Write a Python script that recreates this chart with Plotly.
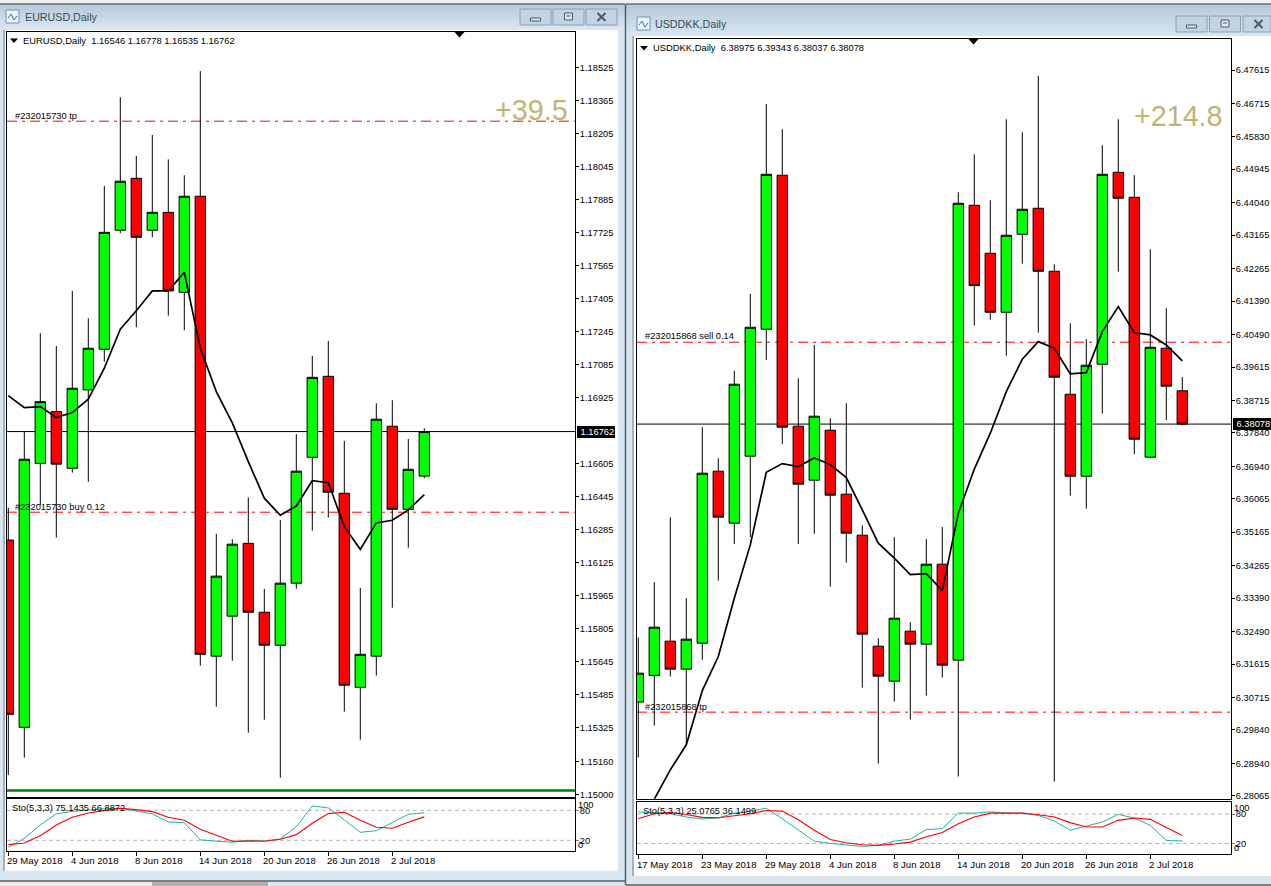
import plotly.graph_objects as go

W, H = 1271, 886

# ---------- EURUSD data ----------
eur_open = [1.16236,1.15328,1.16608,1.16859,1.16584,1.16964,1.17161,1.17738,1.17990,1.17738,1.17825,1.17437,1.17903,1.15673,1.15867,1.16220,1.15886,1.15726,1.16027,1.16637,1.17030,1.16463,1.15522,1.15673,1.16788,1.16385,1.16546]
eur_high = [1.16392,1.16765,1.17239,1.17177,1.17444,1.17311,1.17953,1.18383,1.18098,1.18200,1.18082,1.18005,1.18510,1.16266,1.16240,1.16443,1.15999,1.16333,1.16750,1.17129,1.17201,1.16717,1.16004,1.16899,1.16914,1.16726,1.16778]
eur_low = [1.15097,1.15181,1.16406,1.16248,1.16563,1.16519,1.17101,1.17724,1.17268,1.17704,1.17324,1.17253,1.15627,1.15428,1.15651,1.15302,1.15365,1.15084,1.16000,1.16282,1.16345,1.15404,1.15268,1.15579,1.15908,1.16199,1.16535]
eur_close = [1.15391,1.16628,1.16907,1.16604,1.16972,1.17166,1.17728,1.17976,1.17704,1.17825,1.17444,1.17903,1.15682,1.16061,1.16216,1.15886,1.15726,1.16027,1.16570,1.17025,1.16468,1.15532,1.15682,1.16822,1.16385,1.16579,1.16762]
eur_ma = [1.16936,1.16878,1.16883,1.16830,1.16854,1.16919,1.17069,1.17258,1.17348,1.17444,1.17444,1.17534,1.17166,1.16956,1.16804,1.16616,1.16439,1.16356,1.16401,1.16524,1.16514,1.16301,1.16191,1.16319,1.16332,1.16382,1.16456]
eur_sto_k = [6,24,50.7,73,78,80.7,83,84,78.7,72.7,56.7,55,20.7,18.7,16,20,18.7,22.7,47,88.7,84.7,60.7,36,39.3,55,72,75.14]
eur_sto_d = [11.3,14.7,29.3,50.7,66,74.7,79.3,84,81.3,77.3,66,60,42,29.3,18,18.7,18,22,31.3,54,73.3,76,60,46,44,56,66.89]
eur_ticks = [1.18525,1.18365,1.18205,1.18045,1.17885,1.17725,1.17565,1.17405,1.17245,1.17085,1.16925,1.16605,1.16445,1.16285,1.16125,1.15965,1.15805,1.15645,1.15485,1.15325,1.15160,1.15000]
eur_date_idx = [0,4,8,12,16,20,24]
eur_date_lbl = ["29 May 2018","4 Jun 2018","8 Jun 2018","14 Jun 2018","20 Jun 2018","26 Jun 2018","2 Jul 2018"]
eur_tp, eur_buy, eur_support, eur_last = 1.18267, 1.16371, 1.15021, 1.16762

# ---------- USDDKK data ----------
dkk_open = [6.30589,6.31305,6.32231,6.31477,6.32177,6.36809,6.35409,6.37213,6.40633,6.44780,6.38021,6.36567,6.37913,6.36190,6.35085,6.32096,6.31154,6.32500,6.32150,6.34305,6.31719,6.43972,6.42679,6.41090,6.43191,6.43891,6.42194,6.38882,6.36674,6.39690,6.44860,6.44187,6.37186,6.40121,6.38975]
dkk_high = [6.32328,6.33820,6.35570,6.33389,6.37994,6.37159,6.39510,6.41583,6.46700,6.46018,6.39313,6.40210,6.38236,6.38640,6.35355,6.32312,6.35032,6.32743,6.34978,6.35301,6.44322,6.45345,6.44106,6.46288,6.45937,6.47454,6.42383,6.40794,6.40363,6.45587,6.46288,6.44780,6.42787,6.41198,6.39343]
dkk_low = [6.29097,6.29958,6.31278,6.29439,6.31728,6.33863,6.34851,6.35032,6.39806,6.37544,6.34851,6.35120,6.33702,6.34348,6.30982,6.28935,6.30605,6.30120,6.30766,6.31251,6.28585,6.40730,6.40891,6.39922,6.42399,6.40541,6.28450,6.36152,6.35802,6.38360,6.42184,6.37267,6.37159,6.38190,6.38037]
dkk_close = [6.31369,6.32608,6.31477,6.32285,6.36755,6.35570,6.39152,6.40686,6.44806,6.37994,6.36459,6.38290,6.36163,6.35139,6.32420,6.31289,6.32850,6.32150,6.34305,6.31585,6.44026,6.41807,6.41090,6.43164,6.43864,6.42194,6.39340,6.36674,6.39663,6.44806,6.44160,6.37671,6.40148,6.39098,6.38078]
dkk_ma = [6.27284,6.27977,6.28765,6.29439,6.30901,6.31816,6.33389,6.34824,6.36782,6.37013,6.36933,6.37167,6.36987,6.36637,6.35767,6.34870,6.34466,6.34025,6.34051,6.33594,6.35678,6.36863,6.37832,6.38952,6.39825,6.40299,6.40121,6.39429,6.39464,6.40568,6.41241,6.40541,6.40479,6.40210,6.39779]
dkk_sto_k = [84.7,83,80.7,74,70,72,82,86,92,70.5,47,24.7,20,17.3,14,16,24.7,28.8,48.3,50.3,82,82,84.7,82,82,77.3,65.8,47,55,63.8,79.3,71.9,57,26,25.08]
dkk_sto_d = [70.5,80.7,83.4,79.3,73.2,72.6,76.6,80.7,87.4,86,68.5,47,28,21.3,17.3,16,18.7,22.7,33.5,42.2,60.4,73.9,82,82,82,78.6,73.9,62.5,53.7,53.7,67.2,71.9,69.2,52.4,36.15]
dkk_ticks = [6.47615,6.46715,6.45830,6.44945,6.44040,6.43165,6.42265,6.41390,6.40490,6.39615,6.38715,6.37840,6.36940,6.36065,6.35165,6.34265,6.33390,6.32490,6.31615,6.30715,6.29840,6.28940,6.28065]
dkk_date_idx = [0,4,8,12,16,20,24,28,32]
dkk_date_lbl = ["17 May 2018","23 May 2018","29 May 2018","4 Jun 2018","8 Jun 2018","14 Jun 2018","20 Jun 2018","26 Jun 2018","2 Jul 2018"]
dkk_sell, dkk_tp, dkk_last = 6.40283, 6.30319, 6.38078

sto_levels = [80, 20]

FONT = "Liberation Sans"
TXT = 9.3
px = lambda v: v / W
py = lambda v: 1 - v / H

shapes, notes = [], []


def rect(x0, y0, x1, y1, fill, line=None, lw=1):
    shapes.append(dict(type="rect", xref="paper", yref="paper", x0=px(x0), x1=px(min(x1, W)), y0=py(y0), y1=py(min(y1, H)),
                       fillcolor=fill, line=dict(color=line or fill, width=lw if line else 0), layer="below"))


def seg(x0, y0, x1, y1, color, lw=1, layer="above"):
    shapes.append(dict(type="line", xref="paper", yref="paper", x0=px(x0), x1=px(min(x1, W)), y0=py(y0), y1=py(y1),
                       line=dict(color=color, width=lw), layer=layer))


def tri(x, y0, y1, half):
    shapes.append(dict(type="path", xref="paper", yref="paper",
                       path=f"M{px(x-half)},{py(y0)} L{px(x+half)},{py(y0)} L{px(x)},{py(y1)} Z",
                       fillcolor="black", line=dict(width=0), layer="above"))


def label(x, y, text, size=TXT, color="black", anchor="left"):
    notes.append(dict(xref="paper", yref="paper", x=px(x), y=py(y), text=text, showarrow=False, xanchor=anchor,
                      yanchor="middle", font=dict(family=FONT, size=size, color=color), borderpad=0, borderwidth=0))


def window(left, right, top, bottom, title_bottom, client_left, client_right, client_top, client_bottom, title, title_x, title_y, icon_x, btn):
    rect(left, top, right, bottom, "#d8e6f2")
    steps = 8
    for i in range(steps):
        t = i / (steps - 1)
        c = "rgb(%d,%d,%d)" % (184 + t * 30, 201 + t * 28, 217 + t * 24)
        h = (title_bottom - top) / steps
        rect(left, top + i * h, right, top + (i + 1) * h + 0.5, c)
    rect(client_left, client_top, client_right, client_bottom, "white")
    seg(client_left - 1, client_top, client_left - 1, client_bottom, "#a8b0b8", 2, "below")
    seg(client_left, client_bottom + 0.5, client_right, client_bottom + 0.5, "#e4e4e4", 1.5, "below")
    seg(left, top, right, top, "#6a6f75", 1.5, "below")
    seg(left, bottom, right, bottom, "#5a5f65", 1.5, "below")
    label(title_x, title_y, title, size=10.7, color="#3b4a5a")
    # icon
    rect(icon_x, title_y - 7, icon_x + 13, title_y + 6, "#eef4fa", "#6c93c0", 1)
    seg(icon_x + 2, title_y + 1, icon_x + 5, title_y - 3, "#3a6ea5", 1)
    seg(icon_x + 5, title_y - 3, icon_x + 8, title_y + 3, "#3a6ea5", 1)
    seg(icon_x + 8, title_y + 3, icon_x + 11, title_y - 1, "#3a6ea5", 1)
    # buttons
    bx, by0, by1, bw, gap = btn
    for k in range(3):
        x0 = bx + k * (bw + gap)
        rect(x0, by0, x0 + bw, by1, "#c3d3e2", "#8aa0b6", 1)
    cy = (by0 + by1) / 2
    c0 = bx + bw / 2
    rect(c0 - 5, cy + 1, c0 + 5, cy + 4, "#dde6ee", "#4a5a6a", 1)
    c1 = bx + bw + gap + bw / 2
    rect(c1 - 4, cy - 4, c1 + 4, cy + 3, "#dde6ee", "#4a5a6a", 1)
    seg(c1 - 2, cy - 1, c1 + 2, cy - 1, "#4a5a6a", 1)
    c2 = bx + 2 * (bw + gap) + bw / 2
    seg(c2 - 4, cy - 4, c2 + 4, cy + 4, "#4a5a6a", 2)
    seg(c2 - 4, cy + 4, c2 + 4, cy - 4, "#4a5a6a", 2)


# ---------- page chrome ----------
rect(0, 0, W, H, "#d8e6f2")
rect(0, 0, W, 4, "#f2f2f2")
rect(0, 882, 152, H, "#ececec")
rect(152, 882, 268, H, "#b0b0b0")
window(0, 625, 4, 881, 29, 5, 618, 30, 871, "EURUSD,Daily", 25, 17, 6, (520, 9, 25, 31, 2))
window(626, W, 4, 885, 36, 634, W, 36, 876, "USDDKK,Daily", 655, 24, 637, (1176, 16, 32, 31, 2.5))
seg(625.5, 4, 625.5, 885, "#5a5f65", 1.5, "below")

fig = go.Figure()


def add_chart(ax, o, h, l, c, ma, k, d, ticks, date_idx, date_lbl, hlines, last,
              left, right, x_left, top, main_bot, sub_top, sub_bot, main_range, sub_range, tx_y):
    a, b = ax, ax + 1
    xa, ya = f"x{a if a > 1 else ''}", f"y{a if a > 1 else ''}"
    xb, yb = f"x{b}", f"y{b}"
    bars = list(range(len(o)))
    fig.add_trace(go.Candlestick(x=bars, open=o, high=h, low=l, close=c, xaxis=xa, yaxis=ya, whiskerwidth=0,
                                 increasing=dict(line=dict(color="black", width=1), fillcolor="#00ff00"),
                                 decreasing=dict(line=dict(color="black", width=1), fillcolor="#ff0000")))
    fig.add_trace(go.Scatter(x=bars, y=ma, mode="lines", xaxis=xa, yaxis=ya, line=dict(color="black", width=1.7)))
    fig.add_trace(go.Scatter(x=bars, y=k, mode="lines", xaxis=xb, yaxis=yb, line=dict(color="#20b2aa", width=1)))
    fig.add_trace(go.Scatter(x=bars, y=d, mode="lines", xaxis=xb, yaxis=yb, line=dict(color="#ff0000", width=1.1)))

    x_range = [(left - x_left) / 16, (right - x_left) / 16]
    base = dict(showgrid=False, zeroline=False, showline=True, mirror=True, linecolor="black", linewidth=1, automargin=False)
    tick_font = dict(family=FONT, size=TXT, color="black")
    date_font = dict(family=FONT, size=9.6, color="black")
    suf = lambda n: "" if n == 1 else str(n)
    layout = {}
    layout[f"xaxis{suf(a)}"] = dict(base, domain=[px(left), px(right)], range=x_range, anchor=ya,
                                    showticklabels=False, ticks="", rangeslider=dict(visible=False))
    layout[f"yaxis{suf(a)}"] = dict(base, domain=[py(main_bot), py(top)], range=main_range, anchor=xa, side="right",
                                    tickmode="array", tickvals=ticks, ticktext=[f"{t:.5f}" for t in ticks],
                                    ticks="outside", ticklen=3, ticklabelstandoff=-1, tickcolor="black", tickfont=tick_font)
    layout[f"xaxis{b}"] = dict(base, domain=[px(left), px(right)], range=x_range, anchor=yb,
                               tickmode="array", tickvals=date_idx, ticktext=[""] * len(date_idx),
                               ticks="outside", ticklen=4, tickcolor="black", rangeslider=dict(visible=False))
    layout[f"yaxis{b}"] = dict(base, domain=[py(sub_bot), py(sub_top)], range=sub_range, anchor=xb, side="right",
                               tickmode="array", tickvals=sto_levels, ticktext=[str(v) for v in sto_levels],
                               ticks="outside", ticklen=3, ticklabelstandoff=-1, tickcolor="#808080", tickfont=tick_font)
    fig.update_layout(**layout)

    for level, col, lw, dash in hlines:
        shapes.append(dict(type="line", xref=xa, yref=ya, x0=x_range[0], x1=x_range[1], y0=level, y1=level,
                           line=dict(color=col, width=lw, dash=dash), layer="below"))
    for level in sto_levels:
        shapes.append(dict(type="line", xref=xb, yref=yb, x0=x_range[0], x1=x_range[1], y0=level, y1=level,
                           line=dict(color="#b4b4b4", width=1, dash="4px,3px"), layer="below"))
    for idx, text in zip(date_idx, date_lbl):
        notes.append(dict(xref=xb, yref="paper", x=idx, y=py(tx_y), text=text, showarrow=False, xanchor="left",
                          yanchor="middle", xshift=-1, font=date_font, borderpad=0, borderwidth=0))
    notes.append(dict(xref="paper", yref=ya, x=px(right + 2), y=last, text=f" {last:.5f}", showarrow=False,
                      xanchor="left", yanchor="middle", bgcolor="black", font=dict(family=FONT, size=TXT, color="white"),
                      borderpad=1, borderwidth=0))
    # the terminal's squeezed 100 / 0 scale captions on the oscillator pane
    label(right + 3, sub_top + 6, "100")
    label(right + 3, sub_bot - 6, "0")


DASH = "10px,5px,3px,5px"
add_chart(1, eur_open, eur_high, eur_low, eur_close, eur_ma, eur_sto_k, eur_sto_d, eur_ticks, eur_date_idx, eur_date_lbl,
          [(eur_tp, "#ff0000", 1, DASH), (eur_buy, "#ff0000", 1, DASH), (eur_support, "#008000", 2.5, "solid"), (eur_last, "black", 1, "solid")],
          eur_last, 7, 575, 8.3, 32, 796.5, 799, 851, [1.149925, 1.186995], [-1.4, 102.6], 860)
add_chart(3, dkk_open, dkk_high, dkk_low, dkk_close, dkk_ma, dkk_sto_k, dkk_sto_d, dkk_ticks, dkk_date_idx, dkk_date_lbl,
          [(dkk_sell, "#ff0000", 1, DASH), (dkk_tp, "#ff0000", 1, DASH), (dkk_last, "black", 1, "solid")],
          dkk_last, 637, 1231, 638.3, 39, 798.8, 801.5, 854, [6.27985, 6.48450], [-1.6, 105.7], 864)

# header and order captions
tri(14, 38.5, 43, 4)
tri(459.5, 32, 37.5, 5)
tri(644, 46, 50.5, 4)
tri(973.5, 39, 44.5, 5)
label(23, 40.5, "EURUSD,Daily&nbsp;&nbsp;1.16546 1.16778 1.16535 1.16762", size=9.4)
label(653, 47.5, "USDDKK,Daily&nbsp;&nbsp;6.38975 6.39343 6.38037 6.38078", size=9.4)
label(15, 115.5, "#232015730 tp")
label(15, 507, "#232015730 buy 0.12")
label(645, 336.5, "#232015868 sell 0.14")
label(645, 706.5, "#232015868 tp")
label(12, 808, "Sto(5,3,3) 75.1435 66.8872")
label(643, 811, "Sto(5,3,3) 25.0765 36.1499")
label(568, 109.5, "+39.5", size=28.7, color="#bfb573", anchor="right")
label(1223, 116.5, "+214.8", size=28.7, color="#bfb573", anchor="right")

fig.update_layout(width=W, height=H, margin=dict(l=0, r=0, t=0, b=0, pad=0), autosize=False, showlegend=False,
                  paper_bgcolor="#d8e6f2", plot_bgcolor="white", boxgap=0.35, boxgroupgap=0, hovermode=False,
                  shapes=shapes, annotations=notes)

fig.write_html("out.html", config={"displayModeBar": False},
               post_script="document.body.style.margin='0';document.body.style.overflow='hidden';")
